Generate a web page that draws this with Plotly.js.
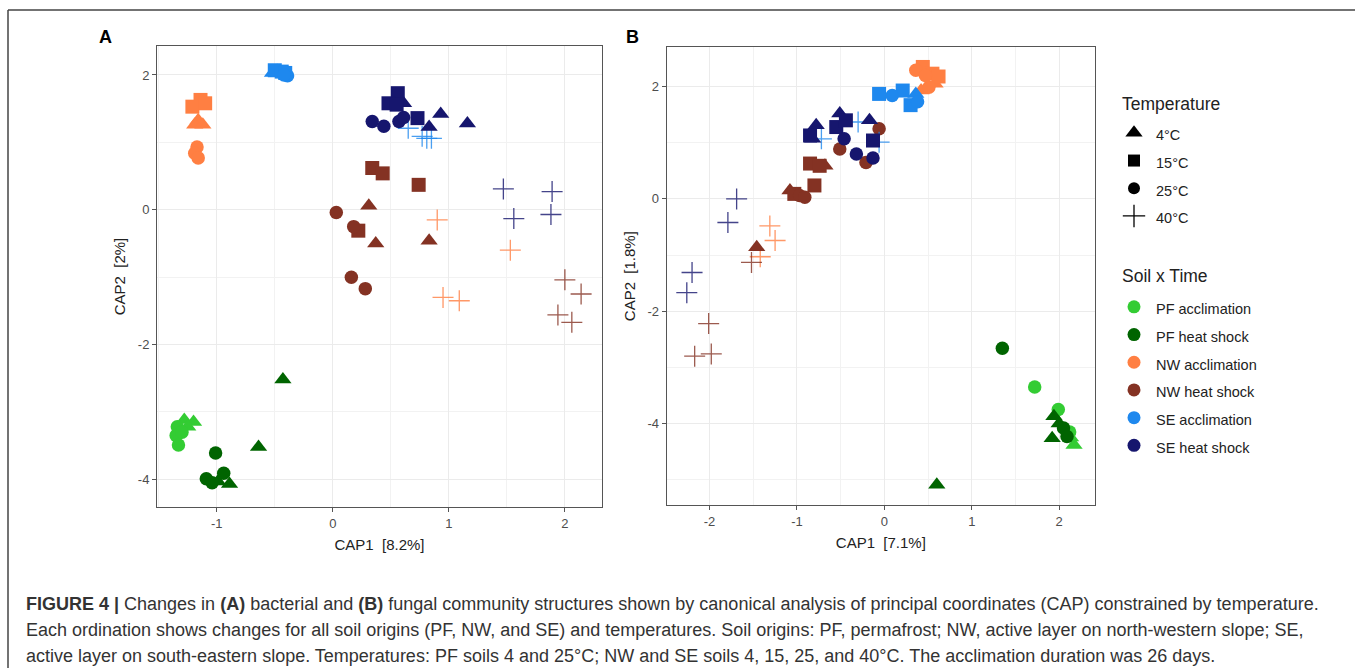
<!DOCTYPE html>
<html>
<head>
<meta charset="utf-8">
<script src="https://cdn.plot.ly/plotly-3.0.1.min.js"></script>
<style>
  html, body { margin: 0; padding: 0; background: #fff; }
  #chart { width: 1355px; height: 668px; }
</style>
</head>
<body>
<div id="chart"></div>
<script>
// ---------- categories ----------
const temperatures = ["4°C", "15°C", "25°C", "40°C"];
const soilGroups = ["PF acclimation", "PF heat shock", "NW acclimation", "NW heat shock", "SE acclimation", "SE heat shock"];

// ---------- Panel A (bacteria) ----------
const A_PF_acc_x = [-1.28, -1.20, -1.25, -1.34, -1.35, -1.33, -1.30];
const A_PF_acc_y = [-3.12, -3.15, -3.22, -3.22, -3.35, -3.49, -3.30];
const A_PF_acc_t = ["4°C", "4°C", "4°C", "25°C", "25°C", "25°C", "25°C"];

const A_PF_hs_x = [-0.43, -0.64, -0.99, -0.89, -1.01, -1.09, -0.94, -1.04];
const A_PF_hs_y = [-2.52, -3.52, -4.03, -4.07, -3.61, -3.99, -3.91, -4.05];
const A_PF_hs_t = ["4°C", "4°C", "4°C", "4°C", "25°C", "25°C", "25°C", "25°C"];

const A_NW_acc_x = [-1.14, -1.21, -1.10, -1.16, -1.19, -1.12, -1.17, -1.19, -1.16, 0.90, 1.53, 0.95, 1.09];
const A_NW_acc_y = [1.63, 1.53, 1.58, 1.33, 1.26, 1.26, 0.93, 0.84, 0.77, -0.15, -0.60, -1.30, -1.35];
const A_NW_acc_t = ["15°C", "15°C", "15°C", "4°C", "4°C", "4°C", "25°C", "25°C", "25°C", "40°C", "40°C", "40°C", "40°C"];

const A_NW_hs_x = [0.34, 0.43, 0.74, 0.22, 0.31, 0.37, 0.83, 0.03, 0.18, 0.16, 0.28, 2.00, 2.14, 1.94, 2.06];
const A_NW_hs_y = [0.62, 0.54, 0.37, -0.31, 0.06, -0.50, -0.46, -0.04, -0.25, -1.00, -1.17, -1.04, -1.25, -1.56, -1.67];
const A_NW_hs_t = ["15°C", "15°C", "15°C", "15°C", "4°C", "4°C", "4°C", "25°C", "25°C", "25°C", "25°C", "40°C", "40°C", "40°C", "40°C"];

const A_SE_acc_x = [-0.52, -0.48, -0.50, -0.44, -0.41, -0.39, -0.42, 0.65, 0.77, 0.81, 0.85];
const A_SE_acc_y = [2.03, 2.06, 2.07, 2.05, 2.03, 1.99, 2.00, 1.21, 1.09, 1.06, 1.06];
const A_SE_acc_t = ["4°C", "4°C", "15°C", "15°C", "15°C", "25°C", "25°C", "40°C", "40°C", "40°C", "40°C"];

const A_SE_hs_x = [0.56, 0.48, 0.55, 0.73, 0.61, 0.93, 1.16, 0.83, 0.34, 0.44, 0.57, 0.61, 1.47, 1.89, 1.56, 1.88];
const A_SE_hs_y = [1.73, 1.58, 1.56, 1.36, 1.58, 1.42, 1.28, 1.23, 1.31, 1.24, 1.31, 1.37, 0.31, 0.27, -0.13, -0.07];
const A_SE_hs_t = ["15°C", "15°C", "15°C", "15°C", "4°C", "4°C", "4°C", "4°C", "25°C", "25°C", "25°C", "25°C", "40°C", "40°C", "40°C", "40°C"];

// ---------- Panel B (fungi) ----------
const B_PF_acc_x = [1.72, 1.99, 2.12, 2.17, 2.13];
const B_PF_acc_y = [-3.35, -3.75, -4.15, -4.38, -4.25];
const B_PF_acc_t = ["25°C", "25°C", "25°C", "4°C", "4°C"];

const B_PF_hs_x = [1.35, 2.05, 2.09, 1.94, 1.92, 0.60, 2.00];
const B_PF_hs_y = [-2.66, -4.08, -4.23, -3.87, -4.26, -5.09, -4.00];
const B_PF_hs_t = ["25°C", "25°C", "25°C", "4°C", "4°C", "4°C", "4°C"];

const B_NW_acc_x = [0.44, 0.55, 0.62, 0.36, 0.51, 0.47, 0.42, 0.58, -1.31, -1.25, -1.42];
const B_NW_acc_y = [2.35, 2.23, 2.18, 2.29, 1.99, 2.20, 1.93, 2.05, -0.48, -0.74, -1.03];
const B_NW_acc_t = ["15°C", "15°C", "15°C", "25°C", "25°C", "25°C", "4°C", "4°C", "40°C", "40°C", "40°C"];

const B_NW_hs_x = [-0.85, -0.74, -0.80, -1.03, -0.68, -1.08, -1.46, -0.97, -0.91, -0.51, -0.21, -0.06, -1.52, -2.01, -2.17, -1.98];
const B_NW_hs_y = [0.63, 0.59, 0.24, 0.09, 0.59, 0.15, -0.86, 0.06, 0.03, 0.89, 0.65, 1.25, -1.13, -2.22, -2.80, -2.76];
const B_NW_hs_t = ["15°C", "15°C", "15°C", "15°C", "4°C", "4°C", "4°C", "25°C", "25°C", "25°C", "25°C", "25°C", "40°C", "40°C", "40°C", "40°C"];

const B_SE_acc_x = [-0.06, 0.21, 0.30, 0.36, 0.09, 0.38, -0.30, -0.06, -0.72];
const B_SE_acc_y = [1.87, 1.93, 1.67, 1.87, 1.84, 1.73, 1.37, 1.01, 1.07];
const B_SE_acc_t = ["15°C", "15°C", "15°C", "4°C", "25°C", "25°C", "40°C", "40°C", "40°C"];

const B_SE_hs_x = [-0.78, -0.82, -0.51, -0.17, -0.85, -0.55, -0.44, -0.13, -0.46, -0.32, -0.13, -1.69, -1.79, -2.20, -2.26];
const B_SE_hs_y = [1.31, 1.07, 1.52, 1.40, 1.13, 1.28, 1.40, 1.04, 1.07, 0.80, 0.73, 0.00, -0.42, -1.31, -1.67];
const B_SE_hs_t = ["4°C", "4°C", "4°C", "4°C", "15°C", "15°C", "15°C", "15°C", "25°C", "25°C", "25°C", "40°C", "40°C", "40°C", "40°C"];

// ---------- tick labels ----------
const A_xtickvals = [-1, 0, 1, 2];
const A_xticktext = ["-1", "0", "1", "2"];
const A_ytickvals = [-4, -2, 0, 2];
const A_yticktext = ["-4", "-2", "0", "2"];
const B_xtickvals = [-2, -1, 0, 1, 2];
const B_xticktext = ["-2", "-1", "0", "1", "2"];
const B_ytickvals = [-4, -2, 0, 2];
const B_yticktext = ["-4", "-2", "0", "2"];

// ---------- styles ----------
const groupColors = {
  "PF acclimation": "#33cc33",
  "PF heat shock": "#006400",
  "NW acclimation": "#ff7f42",
  "NW heat shock": "#843223",
  "SE acclimation": "#1e88ee",
  "SE heat shock": "#16166e"
};
const tempSymbol = { "4°C": "triangle-up", "15°C": "square", "25°C": "circle", "40°C": "cross-thin" };
const tempSize = { "4°C": 15, "15°C": 14, "25°C": 13.5, "40°C": 15 };

const panelData = {
  A: [
    ["PF acclimation", A_PF_acc_x, A_PF_acc_y, A_PF_acc_t],
    ["PF heat shock", A_PF_hs_x, A_PF_hs_y, A_PF_hs_t],
    ["NW acclimation", A_NW_acc_x, A_NW_acc_y, A_NW_acc_t],
    ["NW heat shock", A_NW_hs_x, A_NW_hs_y, A_NW_hs_t],
    ["SE acclimation", A_SE_acc_x, A_SE_acc_y, A_SE_acc_t],
    ["SE heat shock", A_SE_hs_x, A_SE_hs_y, A_SE_hs_t]
  ],
  B: [
    ["PF acclimation", B_PF_acc_x, B_PF_acc_y, B_PF_acc_t],
    ["PF heat shock", B_PF_hs_x, B_PF_hs_y, B_PF_hs_t],
    ["NW acclimation", B_NW_acc_x, B_NW_acc_y, B_NW_acc_t],
    ["NW heat shock", B_NW_hs_x, B_NW_hs_y, B_NW_hs_t],
    ["SE acclimation", B_SE_acc_x, B_SE_acc_y, B_SE_acc_t],
    ["SE heat shock", B_SE_hs_x, B_SE_hs_y, B_SE_hs_t]
  ]
};

function markerFor(temp, color) {
  if (temp === "40°C") {
    return { symbol: tempSymbol[temp], size: tempSize[temp], color: color, opacity: 0.8,
             line: { color: color, width: 1.3 } };
  }
  return { symbol: tempSymbol[temp], size: tempSize[temp], color: color, line: { width: 0 } };
}

const traces = [];
[["A", "x", "y"], ["B", "x2", "y2"]].forEach(([p, xa, ya]) => {
  panelData[p].forEach(([g, xs, ys, ts]) => {
    temperatures.forEach(t => {
      const px = [], py = [];
      ts.forEach((tt, i) => { if (tt === t) { px.push(xs[i]); py.push(ys[i]); } });
      if (!px.length) return;
      traces.push({
        type: "scatter", mode: "markers", x: px, y: py, xaxis: xa, yaxis: ya,
        name: g + " " + t, showlegend: false, hoverinfo: "x+y+name",
        marker: markerFor(t, groupColors[g]), cliponaxis: false
      });
    });
  });
});

// legend entries (no data)
const LEG_TXT = 14.5;
temperatures.forEach(t => {
  traces.push({
    type: "scatter", mode: "markers", x: [null], y: [null], xaxis: "x", yaxis: "y",
    name: '<span style="font-size:' + LEG_TXT + 'px">' + t + '</span>', legend: "legend", showlegend: true,
    marker: t === "40°C" ? { symbol: "cross-thin", size: 16, color: "#000", line: { color: "#000", width: 1.3 } }
                         : { symbol: tempSymbol[t], size: t === "4°C" ? 15 : 12, color: "#000", line: { width: 0 } }
  });
});
soilGroups.forEach(g => {
  traces.push({
    type: "scatter", mode: "markers", x: [null], y: [null], xaxis: "x", yaxis: "y",
    name: '<span style="font-size:' + LEG_TXT + 'px">' + g + '</span>', legend: "legend2", showlegend: true,
    marker: { symbol: "circle", size: 13, color: groupColors[g], line: { width: 0 } }
  });
});

const W = 1355, H = 668;
const px2x = v => v / W;
const px2y = v => 1 - v / H;

const FONT = "Liberation Sans, Arial, sans-serif";
function axisX(domain, range, tv, tt, title, anchor) {
  return {
    domain: domain, range: range, anchor: anchor,
    tickmode: "array", tickvals: tv, ticktext: tt,
    showgrid: true, gridcolor: "#ebebeb", gridwidth: 1,
    minor: { dtick: 0.5, tick0: 0, showgrid: true, gridcolor: "#f2f2f2", gridwidth: 1 },
    zeroline: false, showline: true, mirror: true, linecolor: "#555", linewidth: 1,
    ticks: "outside", ticklen: 4, tickcolor: "#555",
    tickfont: { family: FONT, size: 13, color: "#4d4d4d" },
    title: { text: title, font: { family: FONT, size: 15, color: "#222" }, standoff: 9 },
    automargin: false, fixedrange: true
  };
}
function axisY(domain, range, tv, tt, title, anchor) {
  return {
    domain: domain, range: range, anchor: anchor,
    tickmode: "array", tickvals: tv, ticktext: tt,
    showgrid: true, gridcolor: "#ebebeb", gridwidth: 1,
    minor: { dtick: 1, tick0: 0, showgrid: true, gridcolor: "#f2f2f2", gridwidth: 1 },
    zeroline: false, showline: true, mirror: true, linecolor: "#555", linewidth: 1,
    ticks: "outside", ticklen: 4, tickcolor: "#555",
    tickfont: { family: FONT, size: 13, color: "#4d4d4d" },
    title: { text: title, font: { family: FONT, size: 15, color: "#222" }, standoff: 8 },
    automargin: false, fixedrange: true
  };
}

const NB = "\u00a0";
const CAP = { family: FONT, size: 18, color: "#333" };
const layout = {
  width: W, height: H,
  margin: { l: 0, r: 0, t: 0, b: 0 },
  paper_bgcolor: "#fff", plot_bgcolor: "#fff",
  font: { family: FONT, color: "#222" },
  xaxis: axisX([px2x(157), px2x(602)], [-1.515, 2.32], A_xtickvals, A_xticktext, "CAP1" + NB + NB + "[8.2%]", "y"),
  yaxis: axisY([px2y(507), px2y(46)], [-4.41, 2.43], A_ytickvals, A_yticktext, "CAP2" + NB + NB + "[2%]", "x"),
  xaxis2: axisX([px2x(666.7), px2x(1095)], [-2.49, 2.41], B_xtickvals, B_xticktext, "CAP1" + NB + NB + "[7.1%]", "y2"),
  yaxis2: axisY([px2y(505), px2y(47.3)], [-5.45, 2.70], B_ytickvals, B_yticktext, "CAP2" + NB + NB + "[1.8%]", "x2"),
  legend: {
    x: px2x(1112), y: px2y(114), xanchor: "left", yanchor: "top",
    font: { family: FONT, size: 19, color: "#222" },
    bgcolor: "rgba(0,0,0,0)", itemsizing: "trace", tracegroupgap: 0, itemwidth: 34
  },
  legend2: {
    x: px2x(1112), y: px2y(288), xanchor: "left", yanchor: "top",
    font: { family: FONT, size: 19, color: "#222" },
    bgcolor: "rgba(0,0,0,0)", itemsizing: "trace", tracegroupgap: 0, itemwidth: 34
  },
  shapes: [
    { type: "line", xref: "paper", yref: "paper", x0: px2x(8), x1: 1, y0: px2y(10), y1: px2y(10), line: { color: "#444", width: 1.5 } },
    { type: "line", xref: "paper", yref: "paper", x0: px2x(8), x1: px2x(8), y0: px2y(10), y1: 0, line: { color: "#444", width: 1.5 } }
  ],
  annotations: [
    { text: "<b>A</b>", xref: "paper", yref: "paper", x: px2x(105), y: px2y(37), xanchor: "center", yanchor: "middle", showarrow: false, font: { family: FONT, size: 18, color: "#000" } },
    { text: "<b>B</b>", xref: "paper", yref: "paper", x: px2x(632), y: px2y(37), xanchor: "center", yanchor: "middle", showarrow: false, font: { family: FONT, size: 18, color: "#000" } },
    { text: "Temperature", xref: "paper", yref: "paper", x: px2x(1120), y: px2y(104), xanchor: "left", yanchor: "middle", showarrow: false, font: { family: FONT, size: 17.5, color: "#222" } },
    { text: "Soil x Time", xref: "paper", yref: "paper", x: px2x(1120), y: px2y(276), xanchor: "left", yanchor: "middle", showarrow: false, font: { family: FONT, size: 17.5, color: "#222" } },
    { text: "<b>FIGURE 4 |</b> Changes in <b>(A)</b> bacterial and <b>(B)</b> fungal community structures shown by canonical analysis of principal coordinates (CAP) constrained by temperature.",
      xref: "paper", yref: "paper", x: px2x(24), y: px2y(604), xanchor: "left", yanchor: "middle", showarrow: false, font: CAP },
    { text: "Each ordination shows changes for all soil origins (PF, NW, and SE) and temperatures. Soil origins: PF, permafrost; NW, active layer on north-western slope; SE,",
      xref: "paper", yref: "paper", x: px2x(24), y: px2y(630), xanchor: "left", yanchor: "middle", showarrow: false, font: CAP },
    { text: "active layer on south-eastern slope. Temperatures: PF soils 4 and 25°C; NW and SE soils 4, 15, 25, and 40°C. The acclimation duration was 26 days.",
      xref: "paper", yref: "paper", x: px2x(24), y: px2y(656), xanchor: "left", yanchor: "middle", showarrow: false, font: CAP }
  ],
  showlegend: true
};

Plotly.newPlot("chart", traces, layout, { staticPlot: true, displayModeBar: false });
</script>
</body>
</html>
